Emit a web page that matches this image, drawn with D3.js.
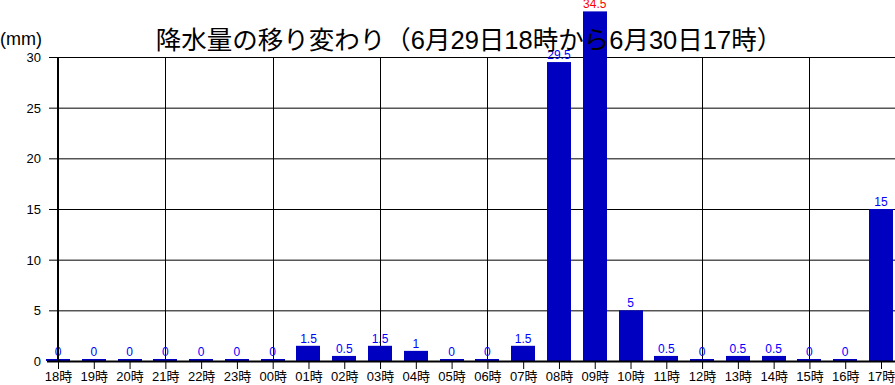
<!DOCTYPE html>
<html><head><meta charset="utf-8">
<script src="https://cdn.jsdelivr.net/npm/d3@7"></script>
<style>body{margin:0;background:#fff}svg{display:block}text{font-family:"Liberation Sans","Noto Sans CJK JP",sans-serif}</style>
</head><body>
<svg id="c" width="895" height="385"></svg>
<script>
const categories = ["18時","19時","20時","21時","22時","23時","00時","01時","02時","03時","04時","05時","06時","07時","08時","09時","10時","11時","12時","13時","14時","15時","16時","17時"];
const values = [0,0,0,0,0,0,0,1.5,0.5,1.5,1,0,0,1.5,29.5,34.5,5,0.5,0,0.5,0.5,0,0,15];
const yTicks = [0,5,10,15,20,25,30];
const title = "降水量の移り変わり（6月29日18時から6月30日17時）";
const unit = "(mm)";

const svg = d3.select("#c");
const x = d3.scalePoint().domain(categories).range([58, 881]);
const y = d3.scaleLinear().domain([0, 30]).range([361, 57]);
const barW = 24;
const maxV = d3.max(values);

// horizontal grid
svg.append("g").selectAll("line").data(yTicks.filter(d=>d>0)).join("line")
  .attr("x1", 49).attr("x2", 895).attr("y1", d=>y(d)+0.5).attr("y2", d=>y(d)+0.5)
  .attr("stroke", "#000").attr("stroke-width", 1);
// vertical grid every 3 categories
svg.append("g").selectAll("line").data(categories.filter((d,i)=>i%3===0 && i>0)).join("line")
  .attr("x1", d=>Math.round(x(d))+0.5).attr("x2", d=>Math.round(x(d))+0.5).attr("y1", y(30)).attr("y2", y(0))
  .attr("stroke", "#000").attr("stroke-width", 1);

// y labels
svg.append("g").selectAll("text").data(yTicks).join("text")
  .attr("x", 41).attr("y", d=>y(d)+5).attr("text-anchor","end")
  .attr("font-size", 13).text(d=>d);

// bars
svg.append("g").selectAll("rect").data(values).join("rect")
  .attr("x", (d,i)=>Math.round(x(categories[i]) - barW/2))
  .attr("width", barW)
  .attr("y", d=> d>0 ? y(d) : y(0)-2)
  .attr("height", d=> d>0 ? y(0)-y(d) : 2)
  .attr("fill", "#0000c0");

// value labels
svg.append("g").selectAll("text").data(values).join("text")
  .attr("x", (d,i)=>x(categories[i]))
  .attr("y", d=> (d>0 ? y(d) : y(0)-2) - 3)
  .attr("text-anchor","middle").attr("font-size", 12)
  .attr("fill", d=> d===maxV ? "#ff0000" : "#0000ff")
  .text(d=>d);

// axes lines
svg.append("line").attr("x1",58).attr("x2",58).attr("y1",y(30)).attr("y2",y(0)+1).attr("stroke","#000").attr("stroke-width",2);
svg.append("line").attr("x1",47).attr("x2",895).attr("y1",y(0)+0.5).attr("y2",y(0)+0.5).attr("stroke","#000").attr("stroke-width",2);

// x ticks
const xa = d3.axisBottom(x).tickSize(7).tickPadding(3);
const gx = svg.append("g").attr("transform", `translate(0,${y(0)+1})`).call(xa);
gx.select(".domain").remove();
gx.selectAll(".tick line").attr("stroke","#000");
gx.selectAll(".tick text").attr("font-size",13).attr("fill","#000").style("font-family",'"Liberation Sans","Noto Sans CJK JP",sans-serif');

// title
svg.append("text").attr("x", 469).attr("y", 49).attr("text-anchor","middle")
  .attr("font-size", 25.5).attr("fill","#000").text(title);
svg.append("text").attr("x", 0).attr("y", 45).attr("font-size", 18).attr("fill","#000").text(unit);
</script>
</body></html>
